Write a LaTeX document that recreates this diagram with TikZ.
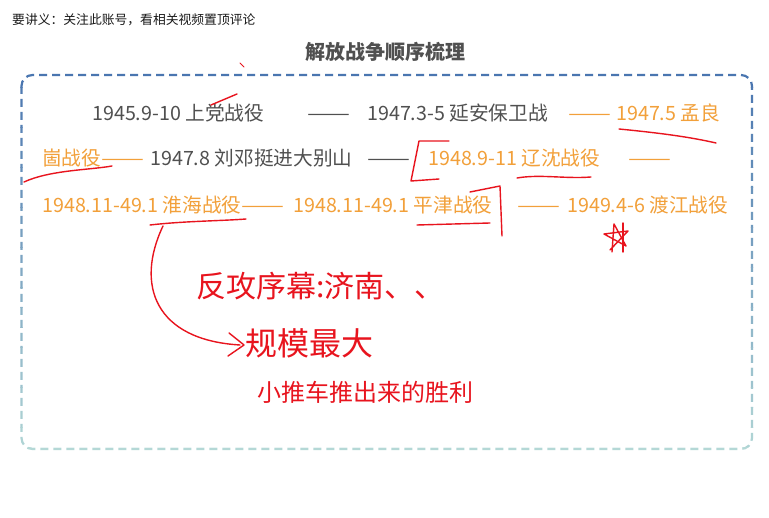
\documentclass[tikz,border=0pt]{standalone}
\usepackage{fontspec}
\setmainfont{Noto Sans CJK SC}
\definecolor{txtgray}{HTML}{505050}
\definecolor{txtorange}{HTML}{F2A03A}
\definecolor{boxblue}{HTML}{4A76B0}
\definecolor{boxteal}{HTML}{B5D9D6}
\definecolor{inkred}{HTML}{E8141E}
\newcommand{\longdash}{\scalebox{1.3}[1]{——}}
\tikzset{
  rowtext/.style={anchor=base west, inner sep=0pt, font=\fontsize{19.7}{19.7}\selectfont},
  graytext/.style={rowtext, text=txtgray},
  orangetext/.style={rowtext, text=txtorange},
  ink/.style={draw=inkred, line width=1.4pt, line cap=round, line join=round},
  inktext/.style={anchor=base west, inner sep=0pt, text=inkred},
}
\begin{document}
\begin{tikzpicture}[x=1pt,y=-1pt]
\useasboundingbox (0,0) rectangle (769,518);
\fill[white] (0,0) rectangle (769,518);
% header
\node[anchor=base west, inner sep=0pt, font=\fontsize{12.8}{12.8}\selectfont, text=black!90] (hdr) at (12,25) {要讲义：关注此账号，看相关视频置顶评论};
\node[anchor=base, inner sep=0pt, font=\fontsize{20}{20}\selectfont\bfseries, text=txtgray] (title) at (385,60) {解放战争顺序梳理};
% dashed gradient frame
\foreach \k in {0,...,19}{
  \pgfmathsetmacro{\ya}{68+\k*20}
  \pgfmathsetmacro{\yb}{\ya+20}
  \pgfmathsetmacro{\mix}{100-\k*5.2}
  \begin{scope}
    \clip (0,\ya) rectangle (769,\yb);
    \draw[color=boxblue!\mix!boxteal, line width=2.2pt, dash pattern=on 8pt off 5pt, rounded corners=11pt] (21.5,75) rectangle (752,449);
  \end{scope}
}
% row 1
\node[graytext] (r1a) at (92,121) {1945.9-10 上党战役};
\node[graytext] (r1b) at (307,121) {\longdash};
\node[graytext] (r1c) at (367,121) {1947.3-5 延安保卫战};
\node[orangetext] (r1d) at (568,121) {\longdash};
\node[orangetext] (r1e) at (616,121) {1947.5 孟良};
% row 2
\node[orangetext] (r2a) at (42,166) {崮战役\longdash};
\node[graytext] (r2b) at (150,166) {1947.8 刘邓挺进大别山};
\node[graytext] (r2c) at (367,166) {\longdash};
\node[orangetext] (r2d) at (428,166) {1948.9-11 辽沈战役};
\node[orangetext] (r2e) at (628,166) {\longdash};
% row 3
\node[orangetext] (r3a) at (42,213) {1948.11-49.1 淮海战役\longdash};
\node[orangetext] (r3b) at (293,213) {1948.11-49.1 平津战役};
\node[orangetext] (r3c) at (517,213) {\longdash};
\node[orangetext] (r3d) at (567,213) {1949.4-6 渡江战役};
% handwritten notes
\node[inktext, font=\fontsize{30}{30}\selectfont] (n1) at (196,298) {反攻序幕:济南、、};
\node[inktext, font=\fontsize{32}{32}\selectfont] (n2) at (245,356) {规模最大};
\node[inktext, font=\fontsize{24}{24}\selectfont] (n3) at (257,402) {小推车推出来的胜利};
% red marks
\draw[ink] (211,105) -- (237,94);
\draw[ink, line width=1pt] (240,63) -- (244,67);
\draw[ink] (619,129) .. controls (660,133) and (690,137) .. (716,143);
\draw[ink] (24,182) .. controls (50,170) and (90,170) .. (112,166);
\draw[ink] (449,141) -- (419,141) -- (411,181) -- (439,179);
\draw[ink] (517,178) .. controls (540,174) and (565,179) .. (591,177);
\draw[ink] (470,192) -- (500,186) -- (502,236);
\draw[ink] (417,225) -- (490,223);
\draw[ink] (150,225) .. controls (185,221) and (220,221) .. (246,219);
\coordinate (arrS) at (163,226);
\coordinate (arrE) at (240,345);
\draw[ink] (arrS) .. controls (135,285) and (155,340) .. (arrE);
\draw[ink] (229,333) -- (244,345) -- (228,356);
\draw[ink] (612,252) -- (614,224) -- (626,246) -- (604,234) -- (628,231) -- (610,250);
\draw[ink] (623,223) -- (623,252);
\end{tikzpicture}
\end{document}
